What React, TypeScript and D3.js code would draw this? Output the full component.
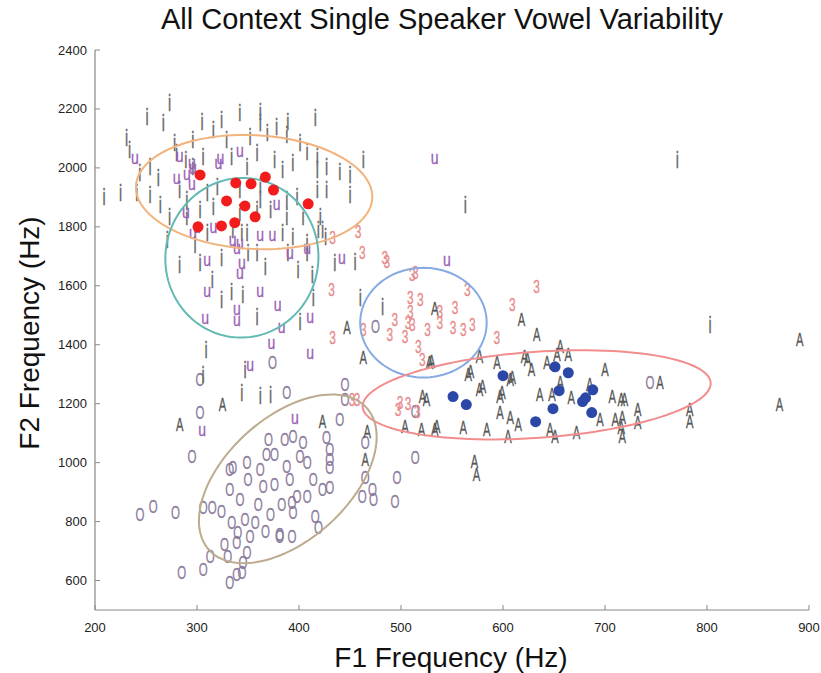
import React, { useEffect } from "react";
import * as d3 from "d3";

const titleText = "All Context Single Speaker Vowel Variability";
const xLabel = "F1 Frequency (Hz)";
const yLabel = "F2 Frequency (Hz)";
const xTicks = [200, 300, 400, 500, 600, 700, 800, 900];
const yTicks = [600, 800, 1000, 1200, 1400, 1600, 1800, 2000, 2200, 2400];

// [F1, F2] in Hz
const vowelI: [number, number][] = [
  [273,2220],[251,2173],[267,2153],[231,2102],[234,2061],[209,1902],[225,1915],[241,1915],[244,1983],[254,2003],
  [280,2051],[305,2156],[316,2129],[324,2163],[342,2187],[362,2190],[362,2153],[389,2156],[416,2170],[378,2139],
  [329,2095],[296,2095],[278,2085],[352,2105],[369,2119],[388,2112],[401,2085],[408,2054],[418,2037],[427,2003],
  [306,2037],[334,2037],[359,2051],[349,2003],[384,1993],[376,2027],[394,2017],[296,2003],[283,1925],[290,1892],
  [310,1915],[320,1935],[342,1925],[362,1935],[362,1892],[388,1892],[398,1902],[418,1993],[418,1925],[316,1868],
  [303,1858],[290,1834],[342,1848],[359,1858],[372,1858],[388,1834],[404,1834],[421,1834],[427,1925],[273,1834],
  [310,1780],[349,1780],[394,1766],[408,1746],[423,1790],[335,1790],[344,1780],[350,1712],[359,1712],[367,1664],
  [384,1780],[389,1712],[399,1654],[408,1712],[413,1637],[419,1790],[426,1766],[435,1678],[334,1580],[345,1570],
  [359,1495],[414,1559],[460,1559],[482,1529],[347,1315],[344,1237],[463,2027],[563,1875],[771,2027],[803,1468],
  [309,1383],[306,1298],[324,1553],[289,2027],[262,1966],[271,1756],[283,1671],[303,1678],[315,1620],[324,1695],
  [455,1681],[450,1908],[440,1986],[450,1976],[401,1478],[362,1227],[372,1230],[264,1875],[254,1909],[298,1739]
];

const vowelU: [number, number][] = [
  [239,2034],[283,2044],[280,1969],[290,1983],[296,2003],[295,1949],[323,2034],[296,1780],[295,2020],[321,2020],
  [342,2061],[378,1881],[300,1800],[316,1800],[362,1773],[374,1773],[342,1746],[408,1732],[339,1732],[391,1715],
  [344,1678],[342,1644],[442,1698],[362,1586],[379,1536],[339,1525],[339,1485],[411,1495],[383,1461],[373,1407],
  [411,1373],[352,1332],[335,1756],[533,2034],[305,1112],[396,1153],[545,1688],[310,1586],[308,1492],[289,1851],
  [310,1688]
];

const vowelEr: [number, number][] = [
  [433,1763],[458,1783],[462,1712],[484,1695],[511,1637],[432,1586],[463,1451],[489,1434],[433,1424],[509,1559],
  [507,1475],[504,1427],[517,1393],[521,1349],[457,1213],[497,1180],[516,1173],[486,1681],[514,1644],[565,1586],
  [609,1536],[509,1512],[538,1512],[553,1525],[551,1458],[561,1451],[570,1468],[538,1475],[526,1451],[511,1468],
  [594,1424],[633,1597],[499,1203],[507,1200],[452,1213],[519,1553],[494,1485]
];

const vowelA: [number, number][] = [
  [447,1458],[463,1356],[521,1224],[283,1129],[325,1197],[525,1213],[423,1139],[504,1122],[520,1112],[533,1112],
  [467,1105],[465,1010],[533,1525],[618,1485],[528,1339],[577,1359],[594,1339],[621,1359],[566,1298],[580,1258],
  [599,1237],[609,1288],[633,1434],[656,1393],[664,1366],[700,1315],[653,1366],[643,1339],[624,1349],[628,1315],
  [568,1308],[530,1342],[607,1281],[597,1224],[577,1247],[597,1169],[607,1152],[615,1129],[561,1119],[535,1122],
  [584,1112],[605,1088],[648,1230],[656,1271],[667,1220],[646,1112],[651,1088],[672,1102],[695,1146],[707,1224],
  [716,1213],[710,1146],[717,1153],[717,1088],[716,1119],[754,1271],[719,1213],[732,1180],[732,1136],[783,1180],
  [783,1139],[871,1197],[891,1417],[572,1003],[574,959],[636,1230],[685,1264]
];

const vowelO: [number, number][] = [
  [303,1169],[295,1020],[257,851],[244,824],[279,830],[306,847],[315,847],[324,834],[332,976],[335,983],
  [349,1000],[350,942],[332,908],[365,919],[376,925],[386,1078],[388,986],[383,858],[393,864],[334,797],
  [340,763],[357,797],[352,749],[367,766],[381,749],[393,749],[339,729],[349,695],[313,681],[306,637],
  [285,627],[332,593],[344,627],[388,1237],[303,1281],[445,1264],[445,1213],[440,1146],[394,1088],[404,1068],
  [427,1085],[430,1044],[401,1020],[408,1000],[430,1010],[430,983],[391,942],[414,942],[423,908],[430,915],
  [398,885],[408,885],[394,830],[416,817],[419,780],[381,756],[465,1068],[465,949],[462,885],[472,908],
  [473,875],[514,1173],[514,1017],[496,949],[494,868],[374,1339],[475,1461],[744,1271],[370,1078],[376,1027],
  [362,976],[360,858],[372,824],[347,807],[368,1027],[342,875],[327,722],[345,661],[339,620],[330,681]
];

const redMeans: [number, number][] = [
  [303,1976],[338,1949],[353,1946],[367,1969],[375,1925],[329,1888],[347,1871],[409,1878],[357,1834],[301,1800],
  [324,1803],[337,1814]
];

const blueMeans: [number, number][] = [
  [551,1224],[564,1197],[600,1295],[651,1325],[664,1305],[655,1244],[649,1183],[632,1139],[688,1247],[681,1220],
  [678,1207],[687,1170]
];

// ellipse: center F1, center F2, semi-axis (F1 Hz units), semi-axis (F2 Hz units), rotation deg
const ellipseNames = ["i", "u", "er", "A", "o"];
const ellipseCF1 = [356, 344, 522, 633, 389];
const ellipseCF2 = [1918, 1695, 1475, 1230, 945];
const ellipseRA = [116, 75, 62, 171, 104];
const ellipseRB = [193, 271, 186, 146, 208];
const ellipseRot = [3, 8, 0, -4, -42];

const W = 821, H = 673;
const M = { left: 95, right: 809, top: 50, bottom: 610 };

const x = d3.scaleLinear().domain([200, 900]).range([M.left, M.right]);
const y = d3.scaleLinear().domain([500, 2400]).range([M.bottom, M.top]);

const ellipseColors = ["#f2b37c", "#63b9b4", "#86aae2", "#f28d8d", "#bcab8e"];

const glyphSets = [
  { data: vowelO, ch: "O", color: "#8a7b9c", sx: 0.82, sy: 1.3, fs: 14 },
  { data: vowelI, ch: "i", color: "#676767", sx: 1.0, sy: 1.65, fs: 14 },
  { data: vowelU, ch: "u", color: "#9a5fb6", sx: 1.0, sy: 1.35, fs: 14 },
  { data: vowelEr, ch: "3", color: "#e8898a", sx: 0.85, sy: 1.3, fs: 14 },
  { data: vowelA, ch: "A", color: "#555555", sx: 0.8, sy: 1.35, fs: 14 },
];

function ellipsePath(i: number): string {
  const cx = x(ellipseCF1[i]);
  const cy = y(ellipseCF2[i]);
  const a = x(ellipseCF1[i] + ellipseRA[i]) - cx;
  const b = cy - y(ellipseCF2[i] + ellipseRB[i]);
  const th = (ellipseRot[i] * Math.PI) / 180;
  const pts: [number, number][] = d3.range(0, 120).map((k) => {
    const t = (k / 120) * Math.PI * 2;
    const px = a * Math.cos(t);
    const py = b * Math.sin(t);
    return [cx + px * Math.cos(th) - py * Math.sin(th), cy + px * Math.sin(th) + py * Math.cos(th)];
  });
  return d3.line().curve(d3.curveLinearClosed)(pts) || "";
}

export default function App() {
  useEffect(() => {
    document.body.style.margin = "0";
  }, []);
  const font = "'Liberation Sans', Arial, Helvetica, sans-serif";
  return (
    <svg width={W} height={H} style={{ display: "block", background: "#fff" }} fontFamily={font}>
      <text x={442} y={29} textAnchor="middle" fontSize={29} fill="#111">{titleText}</text>
      {/* axes */}
      <line x1={M.left} x2={M.left} y1={M.top} y2={M.bottom} stroke="#888" strokeWidth={1.2} />
      <line x1={M.left} x2={M.right} y1={M.bottom} y2={M.bottom} stroke="#888" strokeWidth={1.2} />
      {yTicks.map((t) => (
        <g key={"y" + t}>
          <line x1={M.left} x2={M.left + 5} y1={y(t)} y2={y(t)} stroke="#888" />
          <text x={M.left - 8} y={y(t)} dy="0.35em" textAnchor="end" fontSize={13} fill="#222">{t}</text>
        </g>
      ))}
      {xTicks.map((t) => (
        <g key={"x" + t}>
          <line x1={x(t)} x2={x(t)} y1={M.bottom} y2={M.bottom - 5} stroke="#888" />
          <text x={x(t)} y={M.bottom + 22} textAnchor="middle" fontSize={13} fill="#222">{t}</text>
        </g>
      ))}
      <text x={451} y={667} textAnchor="middle" fontSize={28} fill="#111">{xLabel}</text>
      <text transform={`translate(39,333) rotate(-90)`} textAnchor="middle" fontSize={28} fill="#111">{yLabel}</text>
      {/* glyphs */}
      {glyphSets.map((g, gi) => (
        <g key={"g" + gi} fill={g.color} stroke={g.color} strokeWidth={0.25}>
          {g.data.map((d, k) => (
            <text key={k} transform={`translate(${x(d[0])},${y(d[1])}) scale(${g.sx},${g.sy})`}
              textAnchor="middle" dy="0.35em" fontSize={g.fs}>{g.ch}</text>
          ))}
        </g>
      ))}
      {/* ellipses */}
      {ellipseNames.map((n, i) => (
        <path key={n} d={ellipsePath(i)} fill="none" stroke={ellipseColors[i]} strokeWidth={2} />
      ))}
      {/* means */}
      {redMeans.map((d, k) => (
        <circle key={"r" + k} cx={x(d[0])} cy={y(d[1])} r={5.5} fill="#f31c1c" />
      ))}
      {blueMeans.map((d, k) => (
        <circle key={"b" + k} cx={x(d[0])} cy={y(d[1])} r={5.5} fill="#2b48a6" />
      ))}
    </svg>
  );
}
